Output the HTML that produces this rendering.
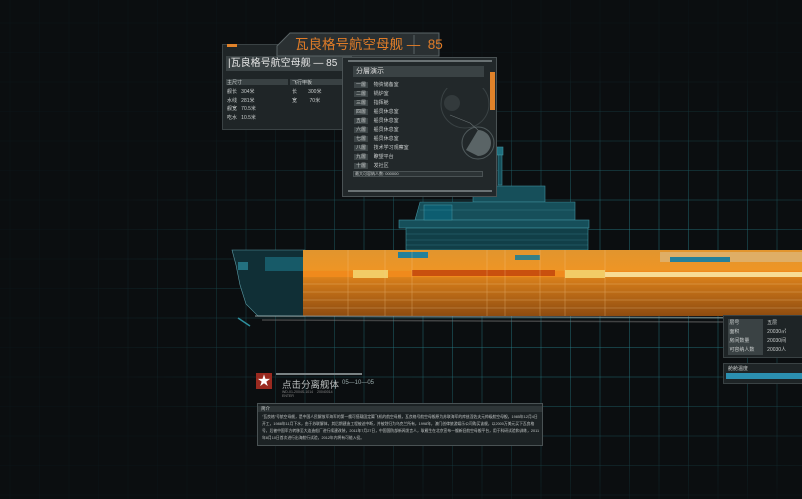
<!DOCTYPE html>
<html><head><meta charset="utf-8"><style>
*{margin:0;padding:0;box-sizing:border-box}
body{width:802px;height:499px;overflow:hidden;background:#0b0e10;font-family:"Liberation Sans","Noto Sans CJK SC",sans-serif;position:relative}
.grid{position:absolute;inset:0;background-image:linear-gradient(90deg,rgba(40,130,140,.42) 1px,transparent 1px),linear-gradient(rgba(40,130,140,.42) 1px,transparent 1px);background-size:29.5px 29.5px;background-position:9.5px 22.5px;-webkit-mask-image:radial-gradient(ellipse 480px 230px at 560px 290px,#000 35%,rgba(0,0,0,.08) 100%)}
.abs{position:absolute}
.t{color:#c8cccc;font-size:5px;white-space:nowrap}
</style></head><body>
<div class="grid"></div>

<svg class="abs" style="left:0;top:0" width="802" height="499">
<g fill="#164f5a" stroke="#3f8f9c" stroke-width=".6">
<rect x="497" y="147" width="6" height="8" fill="#1f6f7e"/>
<rect x="498" y="155" width="4" height="30"/>
<rect x="473" y="186" width="72" height="16"/>
<polygon points="420,202 575,202 575,220 415,220"/>
<rect x="399" y="220" width="190" height="8"/>
<rect x="406" y="228" width="182" height="22" fill="#113f48"/>
<rect x="424" y="205" width="28" height="15" fill="#0d5d70"/>
</g>
<g stroke="#5fb3c0" stroke-width=".4" opacity=".5">
<line x1="406" y1="234" x2="588" y2="234"/><line x1="406" y1="240" x2="588" y2="240"/><line x1="406" y1="245" x2="588" y2="245"/>
<line x1="420" y1="210" x2="575" y2="210"/>
</g>
<polygon points="232,250 305,250 305,316 258,316 246,304 240,285 236,265" fill="#102f36" stroke="#5a9aa5" stroke-width=".6"/>
<rect x="265" y="257" width="38" height="14" fill="#175a68"/>
<rect x="238" y="262" width="10" height="8" fill="#23707f"/>
<defs>
<linearGradient id="og" x1="0" y1="0" x2="0" y2="1">
<stop offset="0" stop-color="#e1952e"/><stop offset=".3" stop-color="#ee9525"/><stop offset=".45" stop-color="#d47c1a"/><stop offset="1" stop-color="#8e4c10"/>
</linearGradient>
</defs>
<rect x="303" y="250" width="499" height="66" fill="url(#og)"/>
<rect x="303" y="271" width="499" height="6" fill="#f08a1c"/>
<rect x="412" y="270" width="104" height="6" fill="#c9500e"/>
<rect x="505" y="270" width="50" height="6" fill="#c9500e"/>
<rect x="353" y="270" width="35" height="8" fill="#f2cc66"/>
<rect x="565" y="270" width="40" height="8" fill="#f2cc66"/>
<rect x="605" y="272" width="197" height="5" fill="#f8dc94"/>
<rect x="660" y="252" width="142" height="10" fill="#dfae66"/>
<rect x="670" y="257" width="60" height="5" fill="#24809a"/>
<rect x="398" y="252" width="30" height="6" fill="#24809a"/>
<rect x="515" y="255" width="25" height="5" fill="#347f86"/>
<g stroke="#f5cd92" stroke-width=".5" opacity=".55" fill="none">
<line x1="348" y1="250" x2="348" y2="316"/><line x1="385" y1="250" x2="385" y2="316"/><line x1="412" y1="250" x2="412" y2="316"/><line x1="487" y1="250" x2="487" y2="316"/><line x1="505" y1="250" x2="505" y2="316"/><line x1="540" y1="250" x2="540" y2="316"/><line x1="565" y1="250" x2="565" y2="316"/><line x1="605" y1="250" x2="605" y2="316"/>
<line x1="303" y1="284" x2="802" y2="284"/><line x1="303" y1="292" x2="802" y2="292"/><line x1="303" y1="300" x2="802" y2="300"/><line x1="303" y1="308" x2="802" y2="308"/>
</g>
<path d="M255,316 L802,318" stroke="#9aa" stroke-width="1.5" opacity=".6"/>
<path d="M262,320 L725,322" stroke="#777" stroke-width="1.5" opacity=".5"/>
<path d="M238,318 L250,326" stroke="#2f8f9e" stroke-width="1.5"/>
</svg>

<div class="abs" style="left:222px;top:44px;width:130px;height:86px;background:#1f2527;border:1px solid #3a4244"></div>
<div class="abs" style="left:227px;top:44px;width:10px;height:3px;background:#e0822a"></div>
<div class="abs" style="left:226px;top:56px;width:125px;height:15px;background:#3a4244;color:#e6e6e6;font-size:10px;line-height:15px;padding-left:2px;white-space:nowrap;overflow:hidden">|瓦良格号航空母舰 — 85</div>
<div class="abs" style="left:226px;top:79px;width:62px;height:6px;background:#394143"></div>
<div class="abs" style="left:290px;top:79px;width:60px;height:6px;background:#394143"></div>
<div class="abs t" style="left:227px;top:79px">主尺寸</div>
<div class="abs t" style="left:292px;top:79px">飞行甲板</div>
<div class="abs t" style="left:227px;top:88px;line-height:8.5px">舰长 &nbsp;&nbsp;304米<br>水线 &nbsp;&nbsp;281米<br>舰宽 &nbsp;&nbsp;70.5米<br>吃水 &nbsp;&nbsp;10.5米</div>
<div class="abs t" style="left:292px;top:88px;line-height:8.5px">长 &nbsp;&nbsp;&nbsp;&nbsp;&nbsp;&nbsp;&nbsp;300米<br>宽 &nbsp;&nbsp;&nbsp;&nbsp;&nbsp;&nbsp;&nbsp;&nbsp;70米</div>

<svg class="abs" style="left:276px;top:32px" width="164" height="25"><polygon points="14,1 163,1 163,24 1,24 1,14" fill="#2a3032" stroke="#5a6466"/><line x1="138" y1="3" x2="138" y2="22" stroke="#5a6466"/></svg>
<div class="abs" style="left:295px;top:36px;color:#e07c28;font-size:13.5px;line-height:18px;white-space:nowrap">瓦良格号航空母舰 — &nbsp;85</div>

<div class="abs" style="left:342px;top:57px;width:155px;height:140px;background:#22282a;border:1px solid #4a5254"></div>
<div class="abs" style="left:348px;top:60px;width:144px;height:2px;background:#6a7274"></div>
<div class="abs" style="left:348px;top:190px;width:144px;height:2px;background:#6a7274"></div>
<div class="abs" style="left:490px;top:72px;width:5px;height:38px;background:#e0822a"></div>
<div class="abs" style="left:353px;top:66px;width:131px;height:11px;background:#3a4244;color:#ddd;font-size:7px;line-height:11px;padding-left:3px">分層演示</div>
<div class="abs t" style="left:354px;top:81px;line-height:9px">
<span style="background:#3d4547;padding:0 2px">一層</span>&nbsp;&nbsp;&nbsp;&nbsp;物资储备室<br>
<span style="background:#3d4547;padding:0 2px">二層</span>&nbsp;&nbsp;&nbsp;&nbsp;锅炉室<br>
<span style="background:#3d4547;padding:0 2px">三層</span>&nbsp;&nbsp;&nbsp;&nbsp;指挥舱<br>
<span style="background:#3d4547;padding:0 2px">四層</span>&nbsp;&nbsp;&nbsp;&nbsp;船员休息室<br>
<span style="background:#3d4547;padding:0 2px">五層</span>&nbsp;&nbsp;&nbsp;&nbsp;船员休息室<br>
<span style="background:#3d4547;padding:0 2px">六層</span>&nbsp;&nbsp;&nbsp;&nbsp;船员休息室<br>
<span style="background:#3d4547;padding:0 2px">七層</span>&nbsp;&nbsp;&nbsp;&nbsp;船员休息室<br>
<span style="background:#3d4547;padding:0 2px">八層</span>&nbsp;&nbsp;&nbsp;&nbsp;技术学习观察室<br>
<span style="background:#3d4547;padding:0 2px">九層</span>&nbsp;&nbsp;&nbsp;&nbsp;瞭望平台<br>
<span style="background:#3d4547;padding:0 2px">十層</span>&nbsp;&nbsp;&nbsp;&nbsp;发社区</div>
<svg class="abs" style="left:430px;top:88px" width="65" height="80">
<circle cx="35" cy="16" r="24" fill="none" stroke="#3a4244" stroke-width="1"/>
<circle cx="22" cy="15" r="8" fill="#333a3c"/>
<circle cx="48" cy="55" r="16" fill="none" stroke="#505a5c" stroke-width="1"/>
<path d="M48,42 A13,13 0 0 1 48,68 L36,62 Z" fill="#5a6466"/>
<path d="M20,27 L40,35 L48,42" stroke="#6a7274" fill="none" stroke-width=".6"/>
</svg>
<div class="abs" style="left:353px;top:171px;width:130px;height:6px;background:#2c3335;border:1px solid #4a5254"></div>
<div class="abs t" style="left:355px;top:171px;font-size:4px;line-height:6px">最大可容纳人数: 000000</div>

<div class="abs" style="left:723px;top:315px;width:80px;height:43px;background:#1e2426;border:1px solid #3a4244"></div>
<div class="abs t" style="left:728px;top:319px;line-height:9px">
<span style="display:inline-block;width:35px;background:#3a4244">&nbsp;层号</span>&nbsp;&nbsp;&nbsp;五层<br>
<span style="display:inline-block;width:35px;background:#3a4244">&nbsp;面积</span>&nbsp;&nbsp;&nbsp;20030㎡<br>
<span style="display:inline-block;width:35px;background:#3a4244">&nbsp;房间数量</span>&nbsp;&nbsp;&nbsp;20030间<br>
<span style="display:inline-block;width:35px;background:#3a4244">&nbsp;可容纳人数</span>&nbsp;&nbsp;&nbsp;20030人</div>
<div class="abs" style="left:723px;top:363px;width:80px;height:21px;background:#1e2426;border:1px solid #3a4244"></div>
<div class="abs t" style="left:728px;top:365px">舱舱温度</div>
<div class="abs" style="left:726px;top:373px;width:76px;height:6px;background:#2b8fb0"></div>

<div class="abs" style="left:256px;top:373px;width:16px;height:16px;background:#9a2a20;color:#fff;font-size:13px;line-height:16px;text-align:center">★</div>
<div class="abs" style="left:276px;top:373px;width:86px;height:2px;background:#7a8284"></div>
<div class="abs" style="left:282px;top:377px;color:#b8bcbc;font-size:9.5px;white-space:nowrap">点击分离舰体</div>
<div class="abs" style="left:342px;top:380px;color:#9aa;font-size:6px;white-space:nowrap">05—10—05</div>
<div class="abs t" style="left:282px;top:390px;font-size:3.5px;color:#888;line-height:4px">WD-01-2004S-1014 &nbsp;&nbsp;&nbsp;20040014<br>ENTER</div>

<div class="abs" style="left:257px;top:403px;width:286px;height:43px;background:#1c2224;border:1px solid #4a5254"></div>
<div class="abs" style="left:258px;top:406px;width:284px;height:6px;background:#2e3537"></div>
<div class="abs t" style="left:261px;top:406px;font-size:4.5px">简介</div>
<div class="abs" style="left:262px;top:414px;width:278px;font-size:3.8px;line-height:7px;color:#c0c4c4">"瓦良格"号航空母舰，是中国人民解放军海军的第一艘可搭载固定翼飞机的航空母舰，瓦良格号航空母舰原为苏联海军的库兹涅佐夫元帅级航空母舰，1985年12月4日开工，1988年11月下水，由于苏联解体，其后期建造工程被迫中断，并被划归为乌克兰所有，1998年，澳门创律旅游娱乐公司购买该舰，以2000万美元买下瓦良格号，后被中国军方转移至大连造船厂进行续建改装，2011年7月27日，中国国防部新闻发言人，耿雁生在北京宣布一艘新旧航空母舰平台，用于科研试验和训练，2011年8月10日首次进行出海航行试验，2012年内将有可能入役。</div>
</body></html>
